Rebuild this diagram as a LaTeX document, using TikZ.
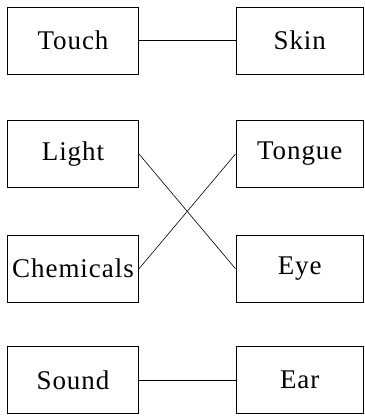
\documentclass[tikz,border=0pt]{standalone}
\usepackage{fontspec}
\setmainfont{Liberation Serif}[LetterSpace=3.5]
\begin{document}
\begin{tikzpicture}[x=1pt,y=-1pt,
  sensebox/.style={draw=black, line width=1pt, inner sep=0pt, minimum height=67pt,
    font=\fontsize{27}{30}\selectfont, text=black},
  leftbox/.style={sensebox, minimum width=131pt},
  rightbox/.style={sensebox, minimum width=127.5pt},
  link/.style={draw=black, line width=0.9pt}]
\useasboundingbox[fill=white] (0,0) rectangle (364,417);
% stimuli on the left, sense organs on the right
\node[leftbox]  (touch) at (73,40.75)   {Touch};
\node[leftbox]  (light) at (73,154)     {Light};
\node[leftbox]  (chem)  at (73,268.75)  {Chemicals};
\node[leftbox]  (sound) at (73,380.25)  {Sound};
\node[rightbox] (skin)  at (299.75,40.75)  {Skin};
\node[rightbox] (tongue) at (299.75,154)   {Tongue};
\node[rightbox] (eye)   at (299.75,268.75) {Eye};
\node[rightbox] (ear)   at (299.75,380.25) {Ear};
% matching lines
\draw[link] (touch.east) -- (skin.west);
\draw[link, line width=0.6pt] (light.east) -- (eye.west);
\draw[link, line width=0.6pt] (chem.east) -- (tongue.west);
\draw[link] (sound.east) -- (ear.west);
\end{tikzpicture}
\end{document}
